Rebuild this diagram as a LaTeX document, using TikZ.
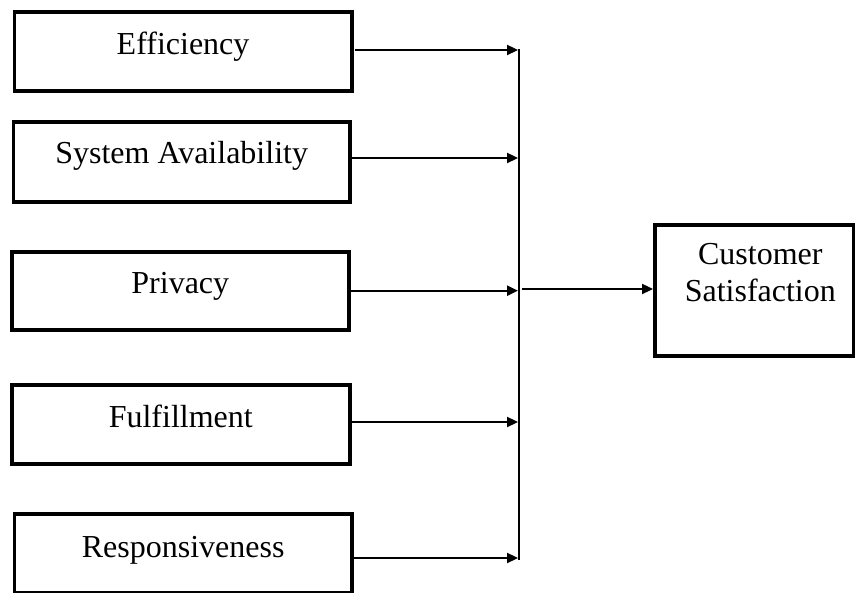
\documentclass[tikz,border=0pt]{standalone}
\usepackage{fontspec}
\setmainfont{Liberation Serif}
\usetikzlibrary{arrows.meta}
\tikzset{
  factor/.style={draw, line width=3.6pt, inner sep=0pt, anchor=north west,
    font=\fontsize{32}{37}\selectfont},
  arr/.style={line width=2.3pt, -{Triangle[length=11pt,width=10pt]}},
  busline/.style={line width=2.3pt},
}
\begin{document}
\begin{tikzpicture}[x=1pt,y=-1pt]
\useasboundingbox (0,0) rectangle (855,593);
% left factor boxes
\node[factor, minimum width=337.5pt, text height=42.7pt, text depth=36.3pt] (b1) at (12.5,10) {Efficiency};
\node[factor, minimum width=336.3pt, text height=42pt, text depth=38pt] (b2) at (11.7,120) {System Availability};
\node[factor, minimum width=337pt, text height=41.7pt, text depth=36.3pt] (b3) at (10,250) {Privacy};
\node[factor, minimum width=338pt, text height=42.3pt, text depth=36.7pt] (b4) at (10,383) {Fulfillment};
\node[factor, minimum width=337.3pt, text height=43.3pt, text depth=35.7pt] (b5) at (12.7,512) {Responsiveness};
% outcome box
\node[factor, minimum width=199pt, text height=40pt, text depth=91pt] (cs) at (653,223)
  {\hspace{12pt}\begin{tabular}[t]{@{}c@{}}Customer\\Satisfaction\end{tabular}};
% bus
\coordinate (bustop) at (519,49);
\coordinate (busbot) at (519,560);
\draw[busline] (bustop) -- (busbot);
\coordinate (t1) at (518,50);
\coordinate (t2) at (518,158);
\coordinate (t3) at (518,290.7);
\coordinate (t4) at (518,422);
\coordinate (t5) at (518,558);
\coordinate (s1) at (355,50);
\coordinate (out) at (522,289);
\draw[arr] (s1) -- (t1);
\draw[arr] (b2.east |- t2) -- (t2);
\draw[arr] (b3.east |- t3) -- (t3);
\draw[arr] (b4.east |- t4) -- (t4);
\draw[arr] (b5.east |- t5) -- (t5);
\draw[arr] (out) -- (cs.west |- out);
\end{tikzpicture}
\end{document}
